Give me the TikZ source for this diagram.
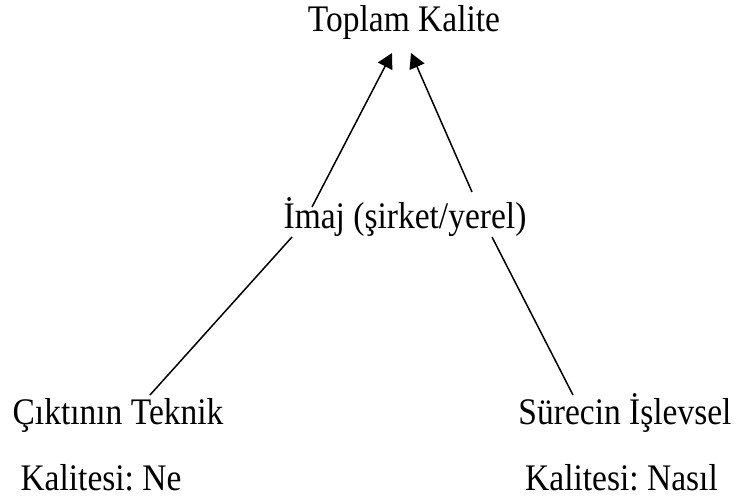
\documentclass[tikz,border=0pt]{standalone}
\usepackage{fontspec}
\usepackage{graphicx}
\setmainfont{Liberation Serif}
\frenchspacing
\usetikzlibrary{arrows.meta}
\newcommand{\tall}[1]{\scalebox{1}[1.12]{#1}}
\begin{document}
\begin{tikzpicture}[x=1pt,y=-1pt,
  lbl/.style={anchor=base,inner sep=0pt,font=\fontsize{33.5}{40}\selectfont},
  link/.style={line width=1.5pt,black},
  up/.style={link,-{Triangle[length=15pt,width=16pt]}}]
\useasboundingbox (0,0) rectangle (737,503);
% labels
\node[lbl] (top)  at (404,32)  {\tall{Toplam Kalite}};
\node[lbl] (imaj) at (405,228) {\tall{İmaj (şirket/yerel)}};
\node[lbl] (tek)  at (118,424) {\tall{Çıktının Teknik}};
\node[lbl] (tekb) at (101,490) {\tall{Kalitesi: Ne}};
\node[lbl] (isl)  at (625,424) {\tall{Sürecin İşlevsel}};
\node[lbl] (islb) at (621.5,490) {\tall{Kalitesi: Nasıl}};
% line end points
\coordinate (tipL) at (392,53);
\coordinate (tipR) at (411,53);
\coordinate (imL) at (312,207);
\coordinate (imR) at (472,192);
\coordinate (imLb) at (292,237);
\coordinate (imRb) at (492,237);
\coordinate (tekT) at (150,395);
\coordinate (islT) at (573,395);
% connectors
\draw[up] (imL) -- (tipL);
\draw[up] (imR) -- (tipR);
\draw[link] (imLb) -- (tekT);
\draw[link] (imRb) -- (islT);
\end{tikzpicture}
\end{document}
